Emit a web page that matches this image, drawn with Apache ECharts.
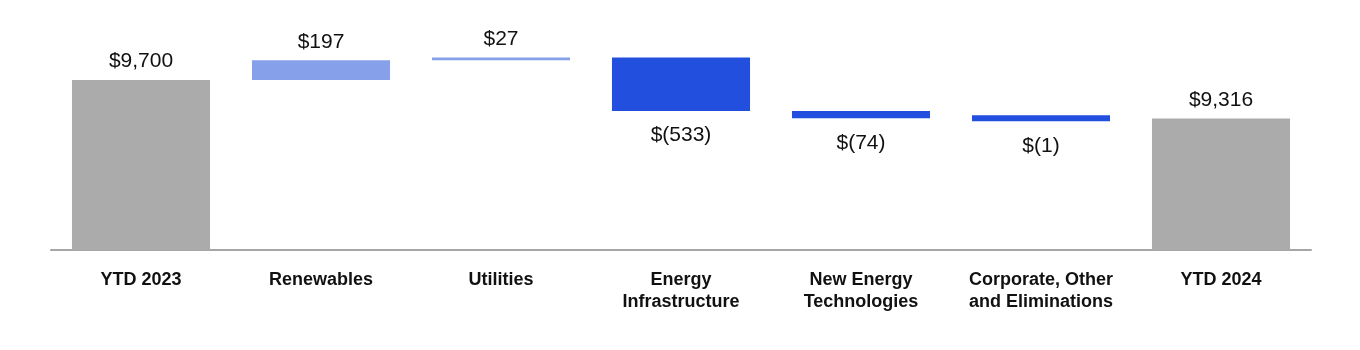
<!DOCTYPE html>
<html>
<head>
<meta charset="utf-8">
<script src="https://cdn.jsdelivr.net/npm/echarts@6/dist/echarts.min.js"></script>
<style>
html,body{margin:0;padding:0;background:#fff;}
#chart{width:1360px;height:350px;}
</style>
</head>
<body>
<div id="chart"></div>
<script>
var categories = ['YTD 2023', 'Renewables', 'Utilities', 'Energy\nInfrastructure', 'New Energy\nTechnologies', 'Corporate, Other\nand Eliminations', 'YTD 2024'];
var values = [9700, 197, 27, -533, -74, -1, 9316];
var kinds = ['total', 'up', 'up', 'down', 'down', 'down', 'total'];
var colors = {total: '#ababab', up: '#86a0e9', down: '#234fdf'};
var yMin = 8000, yMax = 10000;

function fmt(v){
    var s = Math.abs(v).toLocaleString('en-US');
    return v < 0 ? '$(' + s + ')' : '$' + s;
}

// build start / end of each step
var rows = [];
var run = 0;
for(var i=0;i<values.length;i++){
    var lo, hi;
    if(kinds[i] == 'total'){
        lo = yMin; hi = values[i]; run = values[i];
    } else {
        var next = run + values[i];
        lo = Math.min(run, next); hi = Math.max(run, next);
        run = next;
    }
    rows.push([i, lo, hi]);
}

var myChart = echarts.init(document.getElementById('chart'));
myChart.setOption({
    animation: false,
    grid: {left: 51, right: 49, top: 50, bottom: 100},
    xAxis: {
        type: 'category',
        data: categories,
        axisLine: {lineStyle: {color: '#a6a6a6', width: 2}},
        axisTick: {show: false},
        axisLabel: {
            interval: 0,
            margin: 19,
            color: '#111',
            fontFamily: 'Liberation Sans, Arial, sans-serif',
            fontWeight: 'bold',
            fontSize: 18,
            lineHeight: 22
        }
    },
    yAxis: {
        type: 'value',
        min: yMin,
        max: yMax,
        show: false,
        splitLine: {show: false}
    },
    series: [{
        type: 'custom',
        clip: false,
        data: rows,
        renderItem: function(params, api){
            var i = api.value(0);
            var p1 = api.coord([i, api.value(2)]);
            var p2 = api.coord([i, api.value(1)]);
            var w = api.size([1, 0])[0] * 0.767;
            var top = p1[1], h = p2[1] - p1[1];
            var kind = kinds[i];
            var minH = kind == 'down' ? 6 : 2;
            if(h < minH){ top -= (minH - h) / 2; h = minH; }
            var below = kind == 'down';
            return {
                type: 'group',
                children: [{
                    type: 'rect',
                    shape: {x: p1[0] - w / 2, y: top, width: w, height: h},
                    style: {fill: colors[kind]}
                }, {
                    type: 'text',
                    x: p1[0],
                    y: below ? top + h + 14 : top - 8,
                    style: {
                        text: fmt(values[i]),
                        textAlign: 'center',
                        textVerticalAlign: below ? 'top' : 'bottom',
                        font: '21px "Liberation Sans", Arial, sans-serif',
                        fill: '#111'
                    }
                }]
            };
        }
    }]
});
</script>
</body>
</html>
